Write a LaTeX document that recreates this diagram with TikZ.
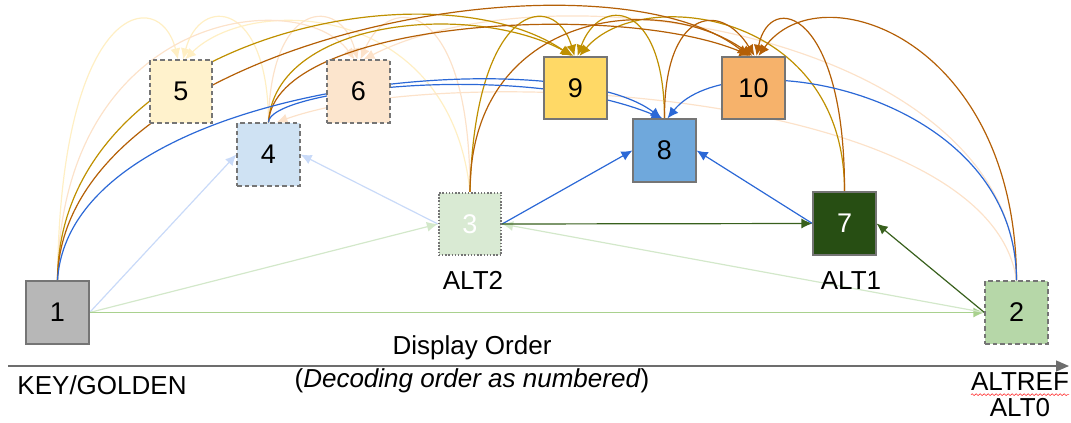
\documentclass[tikz,border=0pt]{standalone}
\usepackage{fontspec}
\setmainfont{Liberation Sans}
\usetikzlibrary{arrows.meta,decorations.pathmorphing}
\definecolor{fOne}{HTML}{B7B7B7}
\definecolor{fTwo}{HTML}{B6D7A8}
\definecolor{fThree}{HTML}{D9EAD3}
\definecolor{fFour}{HTML}{CFE2F3}
\definecolor{fFive}{HTML}{FFF2CC}
\definecolor{fSix}{HTML}{FCE5CD}
\definecolor{fSeven}{HTML}{274E13}
\definecolor{fEight}{HTML}{6FA8DC}
\definecolor{fNine}{HTML}{FFD966}
\definecolor{fTen}{HTML}{F6B26B}
\definecolor{bordergray}{HTML}{757575}
\definecolor{cGold}{HTML}{BF9000}
\definecolor{cBrown}{HTML}{B45F06}
\definecolor{cBlue}{HTML}{2B68D6}
\definecolor{cDkGreen}{HTML}{38601D}
\definecolor{cGreen}{HTML}{A9D18E}
\definecolor{cLtGreen}{HTML}{D3E8CA}
\definecolor{cLtBlue}{HTML}{C9DAF8}
\definecolor{cYellow}{HTML}{FFEFC4}
\definecolor{cPeach}{HTML}{FCE2CA}
\definecolor{axisgray}{HTML}{6D6D6D}
\pgfdeclarelayer{bg}
\pgfsetlayers{bg,main}
\tikzset{
  frame/.style={draw=bordergray, line width=1.7pt, minimum size=62.5pt, inner sep=0pt,
                font=\fontsize{27}{30}\selectfont},
  dashedframe/.style={frame, dash pattern=on 4.5pt off 3pt},
  dottedframe/.style={frame, dash pattern=on 1.5pt off 1.7pt},
  lbl/.style={inner sep=0pt, font=\fontsize{26}{30}\selectfont},
  edge/.style={line width=1.2pt, -{Latex[length=11pt,width=10pt]}},
  axisline/.style={draw=axisgray, line width=1.3pt, -{Triangle[length=13pt,width=11pt]}}
}
\begin{document}
\begin{tikzpicture}[x=1pt,y=-1pt]
\useasboundingbox (0,0) rectangle (1071,423);
% frames
\node[frame, fill=fOne] (n1) at (57.5,312.5) {1};
\node[dashedframe, fill=fTwo] (n2) at (1016.5,312.5) {2};
\node[dottedframe, fill=fThree, text=white] (n3) at (470,224) {3};
\node[dashedframe, fill=fFour] (n4) at (268.5,154.5) {4};
\node[dashedframe, fill=fFive] (n5) at (181,91.5) {5};
\node[dashedframe, fill=fSix] (n6) at (358.5,91.5) {6};
\node[frame, fill=fSeven, text=white] (n7) at (844.5,223.5) {7};
\node[frame, fill=fEight] (n8) at (664.5,150.5) {8};
\node[frame, fill=fNine] (n9) at (575.5,88) {9};
\node[frame, fill=fTen] (n10) at (753.5,88) {10};
% labels
\node[lbl] (lalt2) at (473,280) {ALT2};
\node[lbl] (lalt1) at (851,281) {ALT1};
\node[lbl] (ldisp) at (472,348) {Display Order};
\node[lbl] (lkey) at (102,385) {KEY/GOLDEN};
\node[lbl] (ldec) at (472,381) {(\textit{Decoding order as numbered})};
\node[lbl] (laltref) at (1020,382) {ALTREF};
\node[lbl] (lalt0) at (1020,408) {ALT0};
\draw[red!80, line width=0.6pt, decorate, decoration={snake, amplitude=0.9pt, segment length=4pt}]
  ([yshift=-3.5pt]laltref.south west) -- ([yshift=-3.5pt]laltref.south east);
% axis
\coordinate (axL) at (8,366);
\coordinate (axR) at (1069,366);
\draw[axisline] (axL) -- (axR);
\begin{pgfonlayer}{bg}
% faint yellow into 5
\draw[edge, cYellow] (n1.north) .. controls (60,0) and (160,-15) .. ([xshift=-3pt]n5.north);
\draw[edge, cYellow] (n4.north) .. controls (268,0) and (200,-5) .. ([xshift=2pt]n5.north);
\draw[edge, cYellow] (n3.north) .. controls (450,0) and (250,-5) .. ([xshift=4pt]n5.north);
% faint peach into 6
\draw[edge, cPeach] (n1.north) .. controls (60,10) and (300,-15) .. ([xshift=-4pt]n6.north);
\draw[edge, cPeach] (n4.north) .. controls (270,0) and (340,-5) .. ([xshift=-1pt]n6.north);
\draw[edge, cPeach] (n3.north) .. controls (470,0) and (390,-10) .. ([xshift=2pt]n6.north);
\draw[edge, cPeach] (n2.north) .. controls (1016,40) and (560,-40) .. ([xshift=5pt]n6.north);
\draw[edge, cPeach] (n2.north) .. controls (990,90) and (450,60) .. ([xshift=8pt]n4.north);
% gold into 9
\draw[edge, cGold] (n1.north) .. controls (58,40) and (430,-40) .. ([xshift=-4pt]n9.north);
\draw[edge, cGold] (n4.north) .. controls (275,20) and (470,0) .. ([xshift=-2pt]n9.north);
\draw[edge, cGold] (n3.north) .. controls (475,0) and (555,-10) .. ([xshift=-1pt]n9.north);
\draw[edge, cGold] (n8.north) .. controls (664,0) and (600,-5) .. ([xshift=2pt]n9.north);
\draw[edge, cGold] (n7.north) .. controls (845,10) and (640,-15) .. ([xshift=4pt]n9.north);
% brown into 10
\draw[edge, cBrown] (n1.north) .. controls (60,40) and (600,-60) .. ([xshift=-5pt]n10.north);
\draw[edge, cBrown] (n4.north) .. controls (275,20) and (620,0) .. ([xshift=-3pt]n10.north);
\draw[edge, cBrown] (n3.north) .. controls (470,10) and (660,-10) .. ([xshift=-1pt]n10.north);
\draw[edge, cBrown] (n8.north) .. controls (664,10) and (720,0) .. ([xshift=1pt]n10.north);
\draw[edge, cBrown] (n7.north) .. controls (845,10) and (770,-10) .. ([xshift=3pt]n10.north);
\draw[edge, cBrown] (n2.north) .. controls (1016,40) and (820,-30) .. ([xshift=5pt]n10.north);
% blue into 8
\draw[edge, cBlue] (n1.north) .. controls (70,80) and (560,40) .. ([xshift=-3pt]n8.north);
\draw[edge, cBlue] (n4.north) .. controls (268,90) and (520,60) .. ([xshift=-2pt]n8.north);
\draw[edge, cBlue] (n2.north) .. controls (1016,90) and (730,40) .. ([xshift=3pt]n8.north);
% straight connectors
\draw[edge, cLtBlue] (n1.east) -- (n4.west);
\draw[edge, cLtBlue] (n3.west) -- (n4.east);
\draw[edge, cLtGreen] (n1.east) -- (n3.west);
\draw[edge, cGreen] (n1.east) -- (n2.west);
\draw[edge, cLtGreen] (n2.west) -- (n3.east);
\draw[edge, cBlue] (n3.east) -- (n8.west);
\draw[edge, cDkGreen] (n3.east) -- (n7.west);
\draw[edge, cDkGreen] (n2.west) -- (n7.east);
\draw[edge, cBlue] (n7.west) -- (n8.east);
\end{pgfonlayer}
\end{tikzpicture}
\end{document}
